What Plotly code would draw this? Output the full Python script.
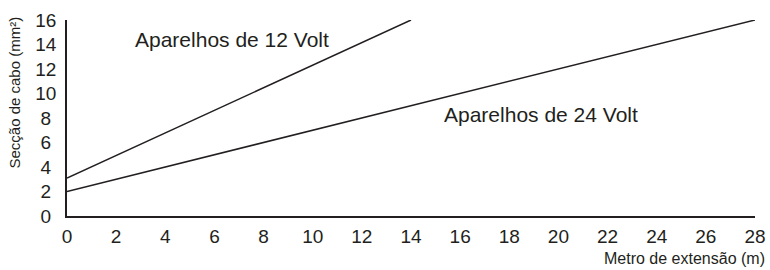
import plotly.graph_objects as go

# Data
x_12v = [0, 14]
y_12v = [3.1, 16]
x_24v = [0, 28]
y_24v = [2.0, 16]
x_ticks = list(range(0, 29, 2))
y_ticks = list(range(0, 17, 2))
label_12v = "Aparelhos de 12 Volt"
label_24v = "Aparelhos de 24 Volt"
x_title = "Metro de extensão (m)"
y_title = "Secção de cabo (mm²)"

ink = "#231f20"
font = "Liberation Sans, Arial, sans-serif"

# y tick labels are centred in the reference: pad single digits by half a digit
y_ticktext = [str(v) + ("\u2008" if v < 10 else "") for v in y_ticks]

fig = go.Figure()
fig.add_trace(go.Scatter(x=x_12v, y=y_12v, mode="lines",
                         line=dict(color=ink, width=1.5), hoverinfo="skip"))
fig.add_trace(go.Scatter(x=x_24v, y=y_24v, mode="lines",
                         line=dict(color=ink, width=1.5), hoverinfo="skip"))

fig.add_annotation(x=6.7, y=14.4, xref="x", yref="y", text=label_12v,
                   showarrow=False, font=dict(size=21, color=ink, family=font))
fig.add_annotation(x=19.3, y=8.3, xref="x", yref="y", text=label_24v,
                   showarrow=False, font=dict(size=21, color=ink, family=font))
fig.add_annotation(x=1, y=0, xref="paper", yref="paper", text=x_title,
                   showarrow=False, xanchor="right", yanchor="middle",
                   yshift=-42, xshift=12,
                   font=dict(size=16, color=ink, family=font))
fig.add_annotation(x=0, y=0.63, xref="paper", yref="paper", text=y_title,
                   showarrow=False, textangle=-90, xanchor="center", yanchor="middle",
                   xshift=-52, font=dict(size=15, color=ink, family=font))

fig.update_layout(
    width=770, height=270,
    margin=dict(l=67, r=15, t=20, b=54),
    paper_bgcolor="white", plot_bgcolor="white",
    showlegend=False,
    font=dict(family=font, color=ink),
)
fig.update_xaxes(range=[0, 28], tickvals=x_ticks, showgrid=False, zeroline=False,
                 showline=True, linecolor=ink, linewidth=1.5, automargin=False,
                 ticks="", tickfont=dict(size=19, color=ink, family=font),
                 ticklabelstandoff=2)
fig.update_yaxes(range=[0, 16], tickvals=y_ticks, ticktext=y_ticktext,
                 showgrid=False, zeroline=False,
                 showline=True, linecolor=ink, linewidth=1.5, automargin=False,
                 ticks="", tickfont=dict(size=19, color=ink, family=font),
                 ticklabelstandoff=5)

fig.write_html("out.html", config={"displayModeBar": False},
               post_script="document.body.style.margin='0';document.body.style.overflow='hidden';")
